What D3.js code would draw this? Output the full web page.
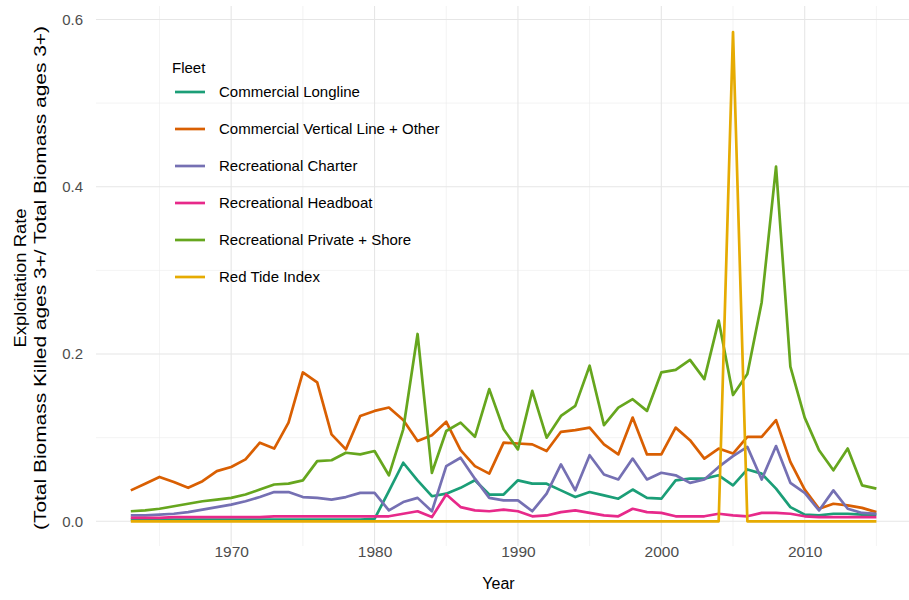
<!DOCTYPE html>
<html><head><meta charset="utf-8">
<script src="https://cdn.jsdelivr.net/npm/d3@7"></script>
<style>body{margin:0;background:#fff}svg{display:block}text{font-family:"Liberation Sans",Arial,sans-serif}</style>
</head><body><svg id="c" width="909" height="600"></svg>
<script>
const years = [1963,1964,1965,1966,1967,1968,1969,1970,1971,1972,1973,1974,1975,1976,1977,1978,1979,1980,1981,1982,1983,1984,1985,1986,1987,1988,1989,1990,1991,1992,1993,1994,1995,1996,1997,1998,1999,2000,2001,2002,2003,2004,2005,2006,2007,2008,2009,2010,2011,2012,2013,2014,2015];
const fleets = ["Commercial Longline","Commercial Vertical Line + Other","Recreational Charter","Recreational Headboat","Recreational Private + Shore","Red Tide Index"];
const commercialLongline = [0.002,0.002,0.002,0.002,0.002,0.002,0.002,0.002,0.002,0.002,0.002,0.002,0.002,0.002,0.002,0.002,0.002,0.003,0.036,0.070,0.049,0.030,0.033,0.040,0.049,0.032,0.032,0.049,0.045,0.045,0.037,0.029,0.035,0.031,0.027,0.038,0.028,0.027,0.049,0.051,0.051,0.055,0.043,0.062,0.057,0.039,0.017,0.008,0.007,0.009,0.009,0.008,0.008];
const commercialVertical = [0.037,0.045,0.053,0.047,0.040,0.048,0.060,0.065,0.074,0.094,0.087,0.118,0.178,0.166,0.104,0.086,0.126,0.132,0.136,0.121,0.096,0.103,0.119,0.085,0.066,0.057,0.094,0.093,0.092,0.084,0.107,0.109,0.112,0.092,0.080,0.124,0.080,0.080,0.112,0.097,0.075,0.087,0.081,0.101,0.101,0.121,0.071,0.038,0.015,0.021,0.019,0.016,0.011];
const recCharter = [0.007,0.007,0.008,0.009,0.011,0.014,0.017,0.020,0.024,0.029,0.035,0.035,0.029,0.028,0.026,0.029,0.034,0.034,0.013,0.023,0.028,0.012,0.066,0.076,0.051,0.028,0.025,0.025,0.012,0.033,0.068,0.037,0.079,0.056,0.050,0.075,0.050,0.058,0.055,0.046,0.050,0.065,0.078,0.089,0.050,0.090,0.046,0.034,0.013,0.037,0.015,0.010,0.009];
const recHeadboat = [0.004,0.004,0.004,0.005,0.005,0.005,0.005,0.005,0.005,0.005,0.006,0.006,0.006,0.006,0.006,0.006,0.006,0.006,0.006,0.009,0.012,0.005,0.032,0.017,0.013,0.012,0.014,0.012,0.006,0.007,0.011,0.013,0.010,0.007,0.006,0.015,0.011,0.010,0.006,0.006,0.006,0.009,0.007,0.006,0.010,0.010,0.009,0.006,0.005,0.005,0.005,0.005,0.005];
const recPrivate = [0.012,0.013,0.015,0.018,0.021,0.024,0.026,0.028,0.032,0.038,0.044,0.045,0.049,0.072,0.073,0.082,0.080,0.084,0.055,0.110,0.224,0.058,0.108,0.118,0.101,0.158,0.110,0.086,0.156,0.100,0.126,0.138,0.186,0.115,0.136,0.146,0.132,0.178,0.181,0.193,0.170,0.240,0.151,0.176,0.262,0.424,0.185,0.124,0.085,0.061,0.087,0.043,0.039];
const redTide = [0,0,0,0,0,0,0,0,0,0,0,0,0,0,0,0,0,0,0,0,0,0,0,0,0,0,0,0,0,0,0,0,0,0,0,0,0,0,0,0,0,0,0.585,0,0,0,0,0,0,0,0,0,0];
const colors = ["#1B9E77","#D95F02","#7570B3","#E7298A","#66A61E","#E6AB02"];
const yTicks = [0,0.2,0.4,0.6];
const yMinor = [0.1,0.3,0.5];
const xTicks = [1970,1980,1990,2000,2010];
const xMinor = [1965,1975,1985,1995,2005,2015];
const seriesValues = [commercialLongline,commercialVertical,recCharter,recHeadboat,recPrivate,redTide];

const svg = d3.select("#c");
const panel = {left:96, right:909, top:6, bottom:546};
const x = d3.scaleLinear().domain([1963,2015]).range([130.8,876.4]);
const y = d3.scaleLinear().domain([0,0.6]).range([521.3,19.5]);

const g = svg.append("g");
g.selectAll(".ymin").data(yMinor).enter().append("line")
 .attr("x1",panel.left).attr("x2",panel.right).attr("y1",d=>y(d)).attr("y2",d=>y(d))
 .attr("stroke","#ebebeb").attr("stroke-width",0.6);
g.selectAll(".xmin").data(xMinor).enter().append("line")
 .attr("y1",panel.top).attr("y2",panel.bottom).attr("x1",d=>x(d)).attr("x2",d=>x(d))
 .attr("stroke","#ebebeb").attr("stroke-width",0.6);
g.selectAll(".ymaj").data(yTicks).enter().append("line")
 .attr("x1",panel.left).attr("x2",panel.right).attr("y1",d=>y(d)).attr("y2",d=>y(d))
 .attr("stroke","#e6e6e6").attr("stroke-width",1.1);
g.selectAll(".xmaj").data(xTicks).enter().append("line")
 .attr("y1",panel.top).attr("y2",panel.bottom).attr("x1",d=>x(d)).attr("x2",d=>x(d))
 .attr("stroke","#e6e6e6").attr("stroke-width",1.1);

const yAxis = svg.append("g").attr("transform",`translate(${panel.left},0)`)
 .call(d3.axisLeft(y).tickValues(yTicks).tickFormat(d3.format(".1f")).tickSize(0).tickPadding(13));
yAxis.select(".domain").remove();
yAxis.selectAll("text").attr("fill","#4d4d4d").attr("font-size","15px");
const xAxis = svg.append("g").attr("transform",`translate(0,${panel.bottom})`)
 .call(d3.axisBottom(x).tickValues(xTicks).tickFormat(d3.format("d")).tickSize(0).tickPadding(2));
xAxis.select(".domain").remove();
xAxis.selectAll("text").attr("fill","#4d4d4d").attr("font-size","15.5px").attr("dy","0.6em");

const line = d3.line().x((d,i)=>x(years[i])).y(d=>y(d));
seriesValues.forEach((vals,k)=>{
  svg.append("path").datum(vals).attr("d",line).attr("fill","none")
   .attr("stroke",colors[k]).attr("stroke-width",2.7).attr("stroke-linejoin","round");
});

svg.append("text").attr("x",(panel.left+panel.right)/2-4).attr("y",589).attr("text-anchor","middle")
 .attr("font-size","16px").attr("fill","#000").text("Year");
const yt = svg.append("g").attr("transform","translate(0,278) rotate(-90)");
yt.append("text").attr("x",-69.5).attr("y",26).attr("font-size","16px")
 .attr("textLength",139).attr("lengthAdjust","spacingAndGlyphs").text("Exploitation Rate");
yt.append("text").attr("x",-252).attr("y",46).attr("font-size","17px")
 .attr("textLength",504).attr("lengthAdjust","spacingAndGlyphs").text("(Total Biomass Killed ages 3+/ Total Biomass ages 3+)");

const lg = svg.append("g");
lg.append("text").attr("x",172).attr("y",73).attr("font-size","15px").attr("fill","#000").text("Fleet");
fleets.forEach((f,i)=>{
  const cy = 92 + i*37;
  lg.append("line").attr("x1",175).attr("x2",205).attr("y1",cy).attr("y2",cy).attr("stroke",colors[i]).attr("stroke-width",2.7);
  lg.append("text").attr("x",219).attr("y",cy).attr("dy","0.35em").attr("font-size","15px").attr("fill","#000").text(f);
});
</script></body></html>
